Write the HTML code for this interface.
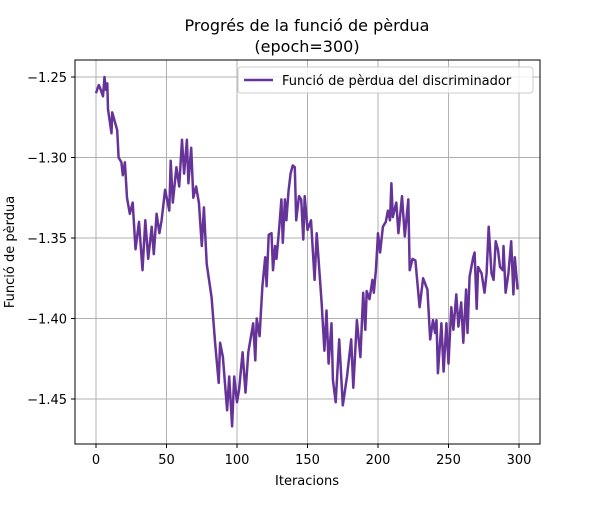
<!DOCTYPE html>
<html><head><meta charset="utf-8"><style>
body{margin:0;background:#fff}
svg text{font-family:"DejaVu Sans","Liberation Sans",sans-serif;fill:#000}
</style></head><body>
<svg id="chart" width="600" height="500" xmlns="http://www.w3.org/2000/svg">
<rect width="600" height="500" fill="#fff"/>
<text x="307" y="31" font-size="16" text-anchor="middle">Progrés de la funció de pèrdua</text>
<text x="307" y="52" font-size="16" text-anchor="middle">(epoch=300)</text>
<g id="grid"></g>
<g id="ticks"></g>
<path id="line" fill="none" stroke="#663399" stroke-width="2.5" stroke-linejoin="round"/>
<rect x="75" y="60" width="465" height="384" fill="none" stroke="#000" stroke-width="1"/>
<text x="307" y="485" font-size="13" text-anchor="middle">Iteracions</text>
<text transform="translate(14,252) rotate(-90)" font-size="13" text-anchor="middle">Funció de pèrdua</text>
<g>
<rect x="238" y="67" width="295" height="26" rx="3" fill="#fff" fill-opacity="0.8" stroke="#ccc"/>
<line x1="244" y1="80" x2="273" y2="80" stroke="#663399" stroke-width="2.5"/>
<text x="282" y="85" font-size="13">Funció de pèrdua del discriminador</text>
</g>
</svg>
<script>
const iters=[0,2,3,5,6,7,8,8.5,11,11.5,15,16,18,19,20.5,22,24,26,28,30.5,33,35,37,39.5,41,43,45,46.5,49,52,53,54.5,57,59,61,62.5,64.5,65.5,67.5,69,71,73,75,76.5,78.5,82,84.5,87,88,90,93,94.5,96.5,98,100,101.5,104,106,108,111.5,113,114,116,117,118,120,121,122.5,124.5,125.5,127,128,130,131.5,132.5,134,135,136.5,138,139.5,141,142,144,145.5,147,148,150,152.5,155,156.5,160,162,163.5,165,167,168,170,172.5,175,178,181,182.5,185,187.5,189.5,191,192,194,196,197,198.5,200,201.5,203.5,205.5,207,208.5,209.5,210.5,213,214.5,217,219,221.5,222.5,224.5,226.5,229.5,232,235,237,239,240.5,241.5,242.5,245,246.5,248.5,250,252,253.5,255.5,257,259,260.5,262.5,263.5,265,267.5,268.5,270,271,273.5,275.5,277,278.5,280.5,282,283.5,285,286.5,288.5,289,290.5,292.5,294.5,296,297,299];
const losses=[-1.26,-1.255,-1.257,-1.262,-1.25,-1.258,-1.254,-1.27,-1.285,-1.272,-1.283,-1.30,-1.303,-1.311,-1.303,-1.325,-1.335,-1.328,-1.357,-1.34,-1.37,-1.339,-1.363,-1.343,-1.36,-1.335,-1.347,-1.339,-1.32,-1.333,-1.302,-1.328,-1.306,-1.318,-1.289,-1.31,-1.289,-1.316,-1.294,-1.325,-1.318,-1.328,-1.355,-1.331,-1.366,-1.387,-1.415,-1.44,-1.415,-1.424,-1.457,-1.436,-1.467,-1.436,-1.452,-1.444,-1.421,-1.446,-1.421,-1.403,-1.426,-1.40,-1.411,-1.395,-1.38,-1.362,-1.38,-1.348,-1.347,-1.37,-1.355,-1.363,-1.343,-1.326,-1.353,-1.326,-1.339,-1.321,-1.31,-1.305,-1.306,-1.339,-1.324,-1.326,-1.351,-1.324,-1.345,-1.339,-1.376,-1.347,-1.39,-1.42,-1.395,-1.428,-1.403,-1.438,-1.452,-1.413,-1.454,-1.436,-1.413,-1.443,-1.401,-1.424,-1.384,-1.407,-1.383,-1.388,-1.376,-1.384,-1.37,-1.347,-1.359,-1.343,-1.34,-1.333,-1.339,-1.316,-1.337,-1.328,-1.347,-1.324,-1.349,-1.326,-1.37,-1.363,-1.364,-1.393,-1.375,-1.382,-1.413,-1.401,-1.409,-1.401,-1.434,-1.403,-1.433,-1.403,-1.428,-1.393,-1.407,-1.385,-1.405,-1.39,-1.415,-1.382,-1.409,-1.374,-1.362,-1.359,-1.394,-1.368,-1.372,-1.384,-1.372,-1.343,-1.372,-1.376,-1.352,-1.357,-1.368,-1.37,-1.355,-1.384,-1.372,-1.352,-1.385,-1.362,-1.382];
const xTicks=[0,50,100,150,200,250,300];
const yTicks=[-1.25,-1.30,-1.35,-1.40,-1.45];
const yTickLabels=["−1.25","−1.30","−1.35","−1.40","−1.45"];
const NS="http://www.w3.org/2000/svg";
function sx(v){return 96+v*(519-96)/300;}
function sy(v){return 77+(-1.25-v)*(399-77)/0.2;}
const grid=document.getElementById('grid'),ticks=document.getElementById('ticks');
function mk(tag,attrs,parent){const e=document.createElementNS(NS,tag);for(const k in attrs)e.setAttribute(k,attrs[k]);parent.appendChild(e);return e;}
xTicks.forEach(t=>{
  const g=mk('line',{x1:sx(t),x2:sx(t),y1:60,y2:444,stroke:'#b0b0b0','stroke-width':1},grid);
  
  
  mk('line',{x1:sx(t),x2:sx(t),y1:444,y2:448,stroke:'#000'},ticks);
  const l=mk('text',{x:sx(t),y:464,'font-size':13,'text-anchor':'middle'},ticks);
  l.textContent=t;
  
  
});
yTicks.forEach((t,i)=>{
  const g=mk('line',{x1:75,x2:540,y1:sy(t),y2:sy(t),stroke:'#b0b0b0','stroke-width':1},grid);
  
  
  mk('line',{x1:71,x2:75,y1:sy(t),y2:sy(t),stroke:'#000'},ticks);
  const l=mk('text',{x:67,y:sy(t)+5,'font-size':13,'text-anchor':'end'},ticks);
  l.textContent=yTickLabels[i];
  
  
});
document.getElementById('line').setAttribute('d',iters.map((x,i)=>(i?'L':'M')+sx(x).toFixed(1)+','+sy(losses[i]).toFixed(1)).join(''));
</script>
</body></html>
